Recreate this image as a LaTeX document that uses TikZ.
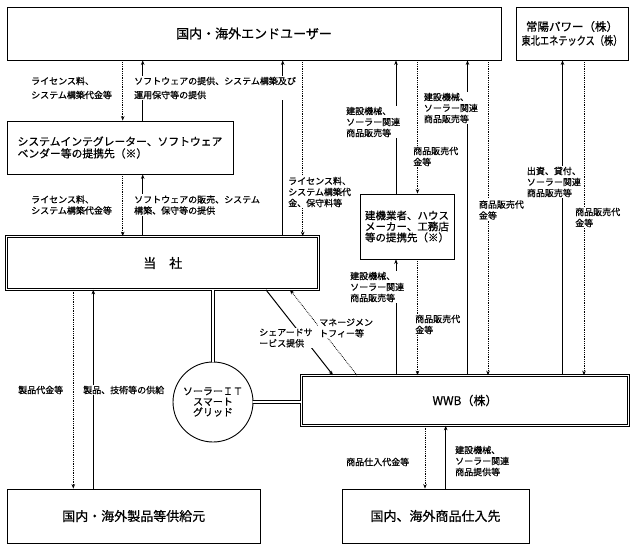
\documentclass[tikz,border=0pt]{standalone}
\usepackage{fontspec}
\setmainfont{Noto Sans CJK JP}[FakeBold=0.6]
\usetikzlibrary{arrows.meta}

\begin{document}
\begin{tikzpicture}
  [x=1pt, y=-1pt, >={Stealth[length=4.5pt,width=3.6pt]},
   box/.style={draw, line width=0.9pt, inner sep=0pt, font=\fontsize{13}{15}\selectfont},
   double box/.style={box, double, double distance=1.4pt, line width=0.7pt},
   note/.style={fill=white, inner sep=1pt, anchor=west, align=left, font=\fontsize{9}{11}\selectfont},
   solarr/.style={->, line width=1pt},
   dotarr/.style={->, densely dotted, line width=0.8pt},
   link/.style={double, double distance=2pt, line width=0.7pt}]
  \useasboundingbox (0,0) rectangle (635,549);

  % boxes
  \node[box, minimum width=494pt, minimum height=53pt] (eu) at (254,33.5) {国内・海外エンドユーザー};
  \node[box, minimum width=112pt, minimum height=53pt, align=center,
        font=\fontsize{11.5}{14}\selectfont] (jp) at (572,33.5)
        {常陽パワー（株）\\\scalebox{0.8}[1]{東北エネテックス（株）}};
  \node[box, minimum width=226pt, minimum height=53pt, align=left,
        font=\fontsize{10.8}{12}\selectfont] (si) at (120,147.5)
        {システムインテグレーター、ソフトウェア\\ベンダー等の提携先（※）};
  \node[double box, minimum width=312pt, minimum height=53pt] (hq) at (162.75,263) {当　社};
  \node[box, minimum width=94pt, minimum height=65pt, align=left,
        font=\fontsize{10.5}{11}\selectfont] (cb) at (407,226.5)
        {建機業者、ハウス\\メーカー、工務店\\等の提携先（※）};
  \node[draw, circle, line width=0.9pt, minimum size=80pt, inner sep=0pt, align=center,
        font=\fontsize{10}{10.5}\selectfont] (sg) at (213,402) {ソーラーＩＴ\\スマート\\グリッド};
  \node[double box, minimum width=327pt, minimum height=50pt,
        font=\fontsize{12}{14}\selectfont] (wwb) at (465,400.5) {WWB（株）};
  \node[box, minimum width=253.5pt, minimum height=54pt] (sup) at (133.75,516) {国内・海外製品等供給元};
  \node[box, minimum width=187pt, minimum height=54pt] (ven) at (435.5,516) {国内、海外商品仕入先};

  % x positions of the flows
  \coordinate (xa) at (122.7,0);
  \coordinate (xb) at (142.7,0);
  \coordinate (xc) at (282.7,0);
  \coordinate (xd) at (302.7,0);
  \coordinate (xe) at (396,0);
  \coordinate (xf) at (417.5,0);
  \coordinate (xg) at (467.5,0);
  \coordinate (xh) at (488,0);
  \coordinate (xi) at (562.5,0);
  \coordinate (xj) at (584,0);
  \coordinate (xk) at (73.3,0);
  \coordinate (xl) at (93.3,0);
  \coordinate (xm) at (425,0);
  \coordinate (xn) at (445.7,0);
  \coordinate (ds1) at (266,0);
  \coordinate (ds2) at (333,0);
  \coordinate (dm1) at (357,0);
  \coordinate (dm2) at (290,0);

  % connectors
  \draw[dotarr] (eu.south -| xa) -- (si.north -| xa);
  \draw[solarr] (si.north -| xb) -- (eu.south -| xb);
  \draw[dotarr] (si.south -| xa) -- (hq.north -| xa);
  \draw[solarr] (hq.north -| xb) -- (si.south -| xb);
  \draw[solarr] (hq.north -| xc) -- (eu.south -| xc);
  \draw[dotarr] (eu.south -| xd) -- (hq.north -| xd);
  \draw[solarr] (cb.north -| xe) -- (eu.south -| xe);
  \draw[dotarr] (eu.south -| xf) -- (cb.north -| xf);
  \draw[solarr] (wwb.north -| xg) -- (eu.south -| xg);
  \draw[dotarr] (eu.south -| xh) -- (wwb.north -| xh);
  \draw[solarr] (wwb.north -| xi) -- (jp.south -| xi);
  \draw[dotarr] (jp.south -| xj) -- (wwb.north -| xj);
  \draw[solarr] (wwb.north -| xe) -- (cb.south -| xe);
  \draw[dotarr] (cb.south -| xf) -- (wwb.north -| xf);
  \draw[dotarr] (hq.south -| xk) -- (sup.north -| xk);
  \draw[solarr] (sup.north -| xl) -- (hq.south -| xl);
  \draw[dotarr] (wwb.south -| xm) -- (ven.north -| xm);
  \draw[solarr] (ven.north -| xn) -- (wwb.south -| xn);
  \draw[solarr] (hq.south -| ds1) -- (wwb.north -| ds2);
  \draw[dotarr] (wwb.north -| dm1) -- (hq.south -| dm2);
  \draw[link] (hq.south -| sg.north) -- (sg.north);
  \draw[link] (sg.east) -- (sg.east -| wwb.west);

  % labels
  \node[note, font=\fontsize{9}{14}\selectfont] (n1) at (30,88) {ライセンス料、\\システム構築代金等};
  \node[note, font=\fontsize{9}{14}\selectfont] (n2) at (133,88) {ソフトウェアの提供、システム構築及び\\運用保守等の提供};
  \node[note] (n3) at (30,205) {ライセンス料、\\システム構築代金等};
  \node[note] (n4) at (133,205) {ソフトウェアの販売、システム\\構築、保守等の提供};
  \node[note] (n5) at (287,192) {ライセンス料、\\システム構築代\\金、保守料等};
  \node[note] (n6) at (345,122) {建設機械、\\ソーラー関連\\商品販売等};
  \node[note] (n7) at (412,156.5) {商品販売代\\金等};
  \node[note] (n8) at (422.7,108) {建設機械、\\ソーラー関連\\商品販売等};
  \node[note] (n9) at (477.7,210) {商品販売代\\金等};
  \node[note] (n10) at (525.7,182) {出資、貸付、\\ソーラー関連\\商品販売等};
  \node[note] (n11) at (574,217.5) {商品販売代\\金等};
  \node[note] (n12) at (349,287) {建設機械、\\ソーラー関連\\商品販売等};
  \node[note] (n13) at (414,324.5) {商品販売代\\金等};
  \node[note] (n14) at (258,338) {シェアードサ\\ービス提供};
  \node[note] (n15) at (318,328) {マネージメン\\トフィー等};
  \node[note] (n16) at (17,390) {製品代金等};
  \node[note] (n17) at (82,390) {製品、技術等の供給};
  \node[note] (n18) at (345,462) {商品仕入代金等};
  \node[note] (n19) at (454,461) {建設機械、\\ソーラー関連\\商品提供等};
\end{tikzpicture}
\end{document}
